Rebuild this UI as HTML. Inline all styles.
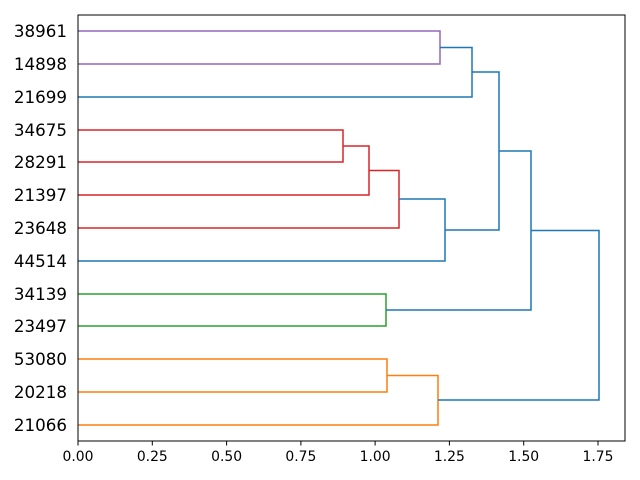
<!DOCTYPE html>
<html><head><style>body{margin:0;background:#fff}svg{display:block}text{font-family:"DejaVu Sans","Liberation Sans",sans-serif}</style></head>
<body>
<svg width="640" height="480" xmlns="http://www.w3.org/2000/svg">
<g fill="none" stroke-width="1.5">
<polyline stroke="#9467bd" points="78,31 440,31 440,64 78,64"/>
<polyline stroke="#1f77b4" points="440,47.5 472,47.5 472,97 78,97"/>
<polyline stroke="#d62728" points="78,130 343,130 343,162 78,162"/>
<polyline stroke="#d62728" points="343,146 369,146 369,195 78,195"/>
<polyline stroke="#d62728" points="369,170.5 399,170.5 399,228 78,228"/>
<polyline stroke="#1f77b4" points="399,199 445,199 445,261 78,261"/>
<polyline stroke="#1f77b4" points="472,72 499,72 499,230 445,230"/>
<polyline stroke="#2ca02c" points="78,294 386,294 386,326 78,326"/>
<polyline stroke="#1f77b4" points="499,151 531,151 531,310 386,310"/>
<polyline stroke="#ff7f0e" points="78,359 387,359 387,392 78,392"/>
<polyline stroke="#ff7f0e" points="387,375.5 438,375.5 438,425 78,425"/>
<polyline stroke="#1f77b4" points="531,230.5 599,230.5 599,400 438,400"/>
</g>
<rect x="78" y="15" width="547" height="426" fill="none" stroke="#000" stroke-width="1"/>
<g stroke="#000">
<line x1="78" y1="441" x2="78" y2="445.5"/><line x1="152.3" y1="441" x2="152.3" y2="445.5"/><line x1="226.6" y1="441" x2="226.6" y2="445.5"/><line x1="300.9" y1="441" x2="300.9" y2="445.5"/><line x1="375.1" y1="441" x2="375.1" y2="445.5"/><line x1="449.4" y1="441" x2="449.4" y2="445.5"/><line x1="523.7" y1="441" x2="523.7" y2="445.5"/><line x1="598" y1="441" x2="598" y2="445.5"/>
</g>
<g font-size="13.9" text-anchor="middle">
<text x="78" y="461">0.00</text><text x="152.3" y="461">0.25</text><text x="226.6" y="461">0.50</text><text x="300.9" y="461">0.75</text><text x="375.1" y="461">1.00</text><text x="449.4" y="461">1.25</text><text x="523.7" y="461">1.50</text><text x="598" y="461">1.75</text>
</g>
<g font-size="16.7" text-anchor="end">
<text x="67" y="37">38961</text><text x="67" y="70">14898</text><text x="67" y="103">21699</text><text x="67" y="136">34675</text><text x="67" y="168">28291</text><text x="67" y="201">21397</text><text x="67" y="234">23648</text><text x="67" y="267">44514</text><text x="67" y="300">34139</text><text x="67" y="332">23497</text><text x="67" y="365">53080</text><text x="67" y="398">20218</text><text x="67" y="431">21066</text>
</g>
</svg>
</body></html>
